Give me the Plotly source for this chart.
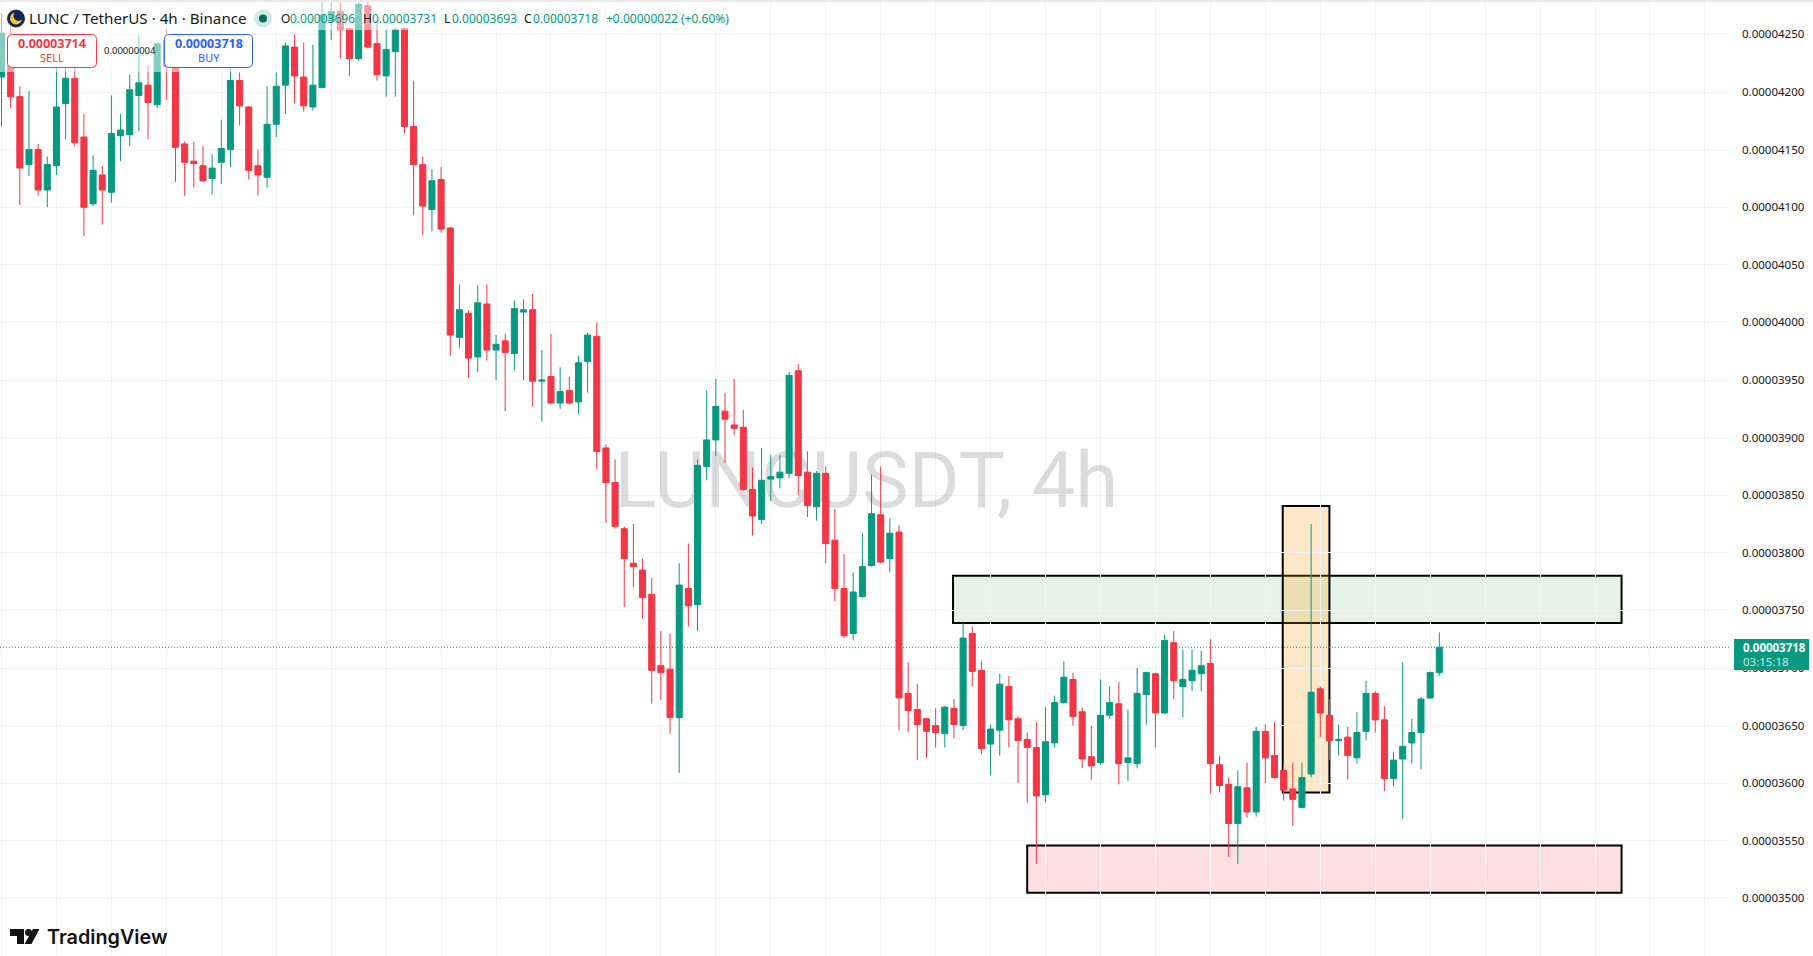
#!/usr/bin/env python3
"""LUNC / TetherUS 4h candles with the three marked zones, TradingView look."""
import plotly.graph_objects as go

# prices are in units of 0.00000001
opens = [4213,4223,4196,4137,4150,4115,4136,4190,4212,4161,
         4103,4128,4113,4162,4163,4197,4206,4189,4245,4223,
         4155,4140,4136,4125,4139,4150,4210,4187,4136,4126,
         4172,4206,4239,4213,4187,4204,4261,4270,4255,4229,
         4275,4242,4214,4235,4255,4170,4137,4098,4124,4082,
         3987,4008,3970,4016,3976,3984,3973,4009,4011,3949,
         3953,3930,3941,3931,3966,3988,3891,3861,3821,3791,
         3785,3764,3702,3699,3657,3769,3755,3875,3898,3923,
         3911,3909,3855,3829,3864,3865,3869,3958,3870,3840,
         3869,3811,3769,3730,3762,3789,3833,3795,3818,3678,
         3664,3656,3650,3643,3665,3650,3730,3698,3634,3646,
         3684,3656,3638,3631,3590,3635,3670,3690,3662,3623,
         3618,3659,3669,3618,3617,3677,3695,3661,3722,3684,
         3689,3695,3704,3616,3599,3565,3596,3575,3645,3624,
         3611,3595,3579,3608,3682,3659,3637,3640,3622,3645,
         3678,3655,3604,3621,3635,3644,3674,3696]
highs = [4268,4257,4205,4201,4155,4144,4221,4225,4225,4181,
         4145,4136,4197,4181,4215,4249,4223,4243,4254,4225,
         4157,4157,4153,4146,4176,4225,4217,4188,4150,4205,
         4217,4243,4250,4243,4241,4278,4278,4278,4256,4278,
         4278,4263,4254,4256,4256,4210,4144,4133,4135,4083,
         4033,4010,4032,4033,3989,3990,4019,4020,4025,3976,
         3990,3961,3953,3971,3991,4000,3894,3881,3823,3825,
         3795,3778,3732,3730,3791,3808,3881,3941,3951,3939,
         3951,3924,3874,3891,3885,3885,3957,3964,3888,3871,
         3875,3838,3799,3783,3817,3868,3875,3830,3824,3705,
         3686,3657,3665,3667,3673,3739,3736,3706,3651,3695,
         3693,3658,3644,3653,3666,3676,3706,3696,3666,3650,
         3690,3684,3688,3664,3700,3697,3696,3729,3732,3716,
         3716,3715,3725,3624,3605,3611,3618,3649,3651,3653,
         3619,3618,3618,3825,3684,3673,3651,3649,3662,3689,
         3680,3667,3627,3705,3656,3675,3697,3731]
lows = [4170,4186,4102,4127,4110,4100,4128,4159,4153,4075,
        4101,4085,4104,4140,4153,4166,4159,4186,4193,4122,
        4110,4117,4122,4111,4120,4135,4171,4124,4110,4117,
        4161,4181,4190,4183,4184,4203,4245,4229,4214,4227,
        4238,4210,4196,4196,4164,4093,4076,4079,4078,3971,
        3978,3952,3957,3967,3950,3923,3958,3950,3927,3914,
        3929,3925,3929,3920,3939,3872,3826,3821,3753,3770,
        3743,3669,3672,3643,3609,3736,3732,3863,3884,3878,
        3902,3854,3815,3825,3845,3856,3865,3850,3831,3828,
        3791,3758,3726,3724,3761,3788,3791,3783,3646,3644,
        3620,3622,3631,3631,3639,3646,3684,3625,3607,3624,
        3631,3600,3583,3530,3583,3631,3669,3650,3613,3603,
        3616,3656,3599,3602,3613,3651,3631,3660,3673,3657,
        3680,3680,3591,3592,3536,3530,3570,3571,3600,3604,
        3585,3563,3578,3605,3640,3620,3624,3603,3617,3637,
        3644,3593,3597,3569,3617,3612,3673,3693]
closes = [4251,4196,4134,4150,4115,4137,4187,4212,4156,4100,
          4132,4115,4164,4167,4202,4208,4191,4242,4222,4152,
          4139,4138,4123,4134,4151,4210,4188,4132,4128,4172,
          4205,4240,4214,4188,4206,4267,4270,4254,4229,4276,
          4239,4215,4237,4254,4170,4137,4101,4123,4081,3989,
          4011,3969,4017,3976,3981,3974,4012,4011,3949,3950,
          3930,3940,3930,3965,3989,3888,3861,3823,3795,3788,
          3761,3698,3696,3657,3772,3754,3876,3898,3927,3916,
          3908,3855,3832,3863,3866,3870,3954,3867,3841,3869,
          3808,3769,3728,3766,3788,3834,3792,3817,3674,3663,
          3651,3645,3644,3666,3651,3726,3697,3630,3647,3686,
          3655,3637,3631,3589,3636,3670,3692,3658,3621,3615,
          3659,3670,3617,3622,3678,3696,3661,3724,3689,3690,
          3698,3702,3617,3598,3565,3597,3575,3645,3622,3605,
          3594,3586,3605,3679,3661,3637,3638,3624,3644,3678,
          3655,3604,3620,3632,3644,3673,3696,3718]

price_ticks = [3450,3500,3550,3600,3650,3700,3750,3800,3850,3900,
               3950,4000,4050,4100,4150,4200,4250]
price_labels = ["0.00003450","0.00003500","0.00003550","0.00003600","0.00003650",
                "0.00003700","0.00003750","0.00003800","0.00003850","0.00003900",
                "0.00003950","0.00004000","0.00004050","0.00004100","0.00004150",
                "0.00004200","0.00004250"]
time_ticks = list(range(0, 187, 6))
last_price = 3718

GREEN = "#089981"
RED = "#F23645"
BLUE = "#2962FF"
INK = "#131722"
FONT = "Noto Sans"

W, H = 1813, 956
PLOT_W = 1730
X_RANGE = [-0.164, 188.74]
Y_RANGE = [3450, 4279.9]


def px(x):
    return x / PLOT_W


def py(y):
    return 1 - y / H


def round_rect(x0, y0, x1, y1, r):
    return (f"M{px(x0 + r)},{py(y0)} L{px(x1 - r)},{py(y0)} Q{px(x1)},{py(y0)} {px(x1)},{py(y0 + r)} "
            f"L{px(x1)},{py(y1 - r)} Q{px(x1)},{py(y1)} {px(x1 - r)},{py(y1)} L{px(x0 + r)},{py(y1)} "
            f"Q{px(x0)},{py(y1)} {px(x0)},{py(y1 - r)} L{px(x0)},{py(y0 + r)} Q{px(x0)},{py(y0)} {px(x0 + r)},{py(y0)} Z")


def paper_rect(fig, x0, y0, x1, y1, fill, line=None, width=0):
    fig.add_shape(type="rect", xref="paper", yref="paper", layer="above",
                  x0=px(x0), x1=px(x1), y0=py(y0), y1=py(y1), fillcolor=fill,
                  line=dict(color=line, width=width) if line else dict(width=0))


def paper_circle(fig, cx, cy, r, fill):
    paper_rect_args = dict(x0=px(cx - r), x1=px(cx + r), y0=py(cy - r), y1=py(cy + r))
    fig.add_shape(type="circle", xref="paper", yref="paper", layer="above",
                  fillcolor=fill, line=dict(width=0), **paper_rect_args)


def label(fig, x, y, text, size, color, anchor="left", bold=False, family=FONT, weight=None):
    font = dict(family=family, size=size, color=color)
    if weight:
        font["weight"] = weight
    fig.add_annotation(xref="paper", yref="paper", x=px(x), y=py(y),
                       text=f"<b>{text}</b>" if bold else text, showarrow=False,
                       xanchor=anchor, yanchor="middle", borderpad=0, borderwidth=0,
                       font=font)


fig = go.Figure()

# watermark lives on the main axes so the candles on the overlay sit on top of it
fig.add_trace(go.Scatter(
    x=[94.45], y=[3857], mode="text", text=["LUNCUSDT, 4h"], hoverinfo="skip",
    textposition="middle center", showlegend=False,
    textfont=dict(family="Roboto", size=78, color="rgba(19,23,34,0.15)"),
))

fig.add_trace(go.Candlestick(
    x=list(range(len(opens))), open=opens, high=highs, low=lows, close=closes,
    xaxis="x2", yaxis="y2", whiskerwidth=0, showlegend=False,
    increasing=dict(line=dict(color=GREEN, width=1), fillcolor=GREEN),
    decreasing=dict(line=dict(color=RED, width=1), fillcolor=RED),
))

# marked zones
fig.add_shape(type="rect", layer="below", x0=103.9, x1=176.9, y0=3739, y1=3780,
              fillcolor="rgba(76,175,80,0.15)", line=dict(color="black", width=2))
fig.add_shape(type="rect", layer="below", x0=112, x1=176.9, y0=3505, y1=3546,
              fillcolor="rgba(242,54,69,0.16)", line=dict(color="black", width=2))
fig.add_shape(type="rect", layer="below", x0=139.9, x1=145, y0=3592, y1=3840.6,
              fillcolor="rgba(255,152,0,0.22)", line=dict(color="black", width=2))

# last price line
fig.add_shape(type="line", xref="paper", x0=0, x1=1, y0=last_price, y1=last_price,
              line=dict(color=GREEN, width=1, dash="1px,2px"))

# header veil over the candles
paper_rect(fig, 0, 0, 735, 30, "rgba(255,255,255,0.5)")
paper_rect(fig, 0, 30, 256, 72, "rgba(255,255,255,0.5)")
paper_rect(fig, 0, 0, W, 2, "#e9e9ea")

# coin logo
paper_circle(fig, 16, 18.5, 9, "#172852")
paper_circle(fig, 16, 18.5, 6, "#F5C542")
paper_circle(fig, 18.5, 16, 5, "#172852")
# market status dot
paper_circle(fig, 263, 18.5, 9, "#cfe9e4")
paper_circle(fig, 263, 18.5, 4, "#0b6b5a")

label(fig, 29, 18, "LUNC / TetherUS · 4h · Binance", 15.2, INK)
label(fig, 281, 18, "O", 12, INK)
label(fig, 290, 18, "0.00003696", 12, GREEN)
label(fig, 363, 18, "H", 12, INK)
label(fig, 372, 18, "0.00003731", 12, GREEN)
label(fig, 444, 18, "L", 12, INK)
label(fig, 452, 18, "0.00003693", 12, GREEN)
label(fig, 524, 18, "C", 12, INK)
label(fig, 533, 18, "0.00003718", 12, GREEN)
label(fig, 606, 18, "+0.00000022 (+0.60%)", 12, GREEN)

# sell / buy buttons
for x0, x1, col, price, name in [(7.5, 96.5, RED, "0.00003714", "SELL"),
                                 (164.5, 252.5, BLUE, "0.00003718", "BUY")]:
    fig.add_shape(type="path", xref="paper", yref="paper", layer="above",
                  path=round_rect(x0, 34.5, x1, 67.5, 5), fillcolor="white",
                  line=dict(color=col, width=1))
    label(fig, (x0 + x1) / 2, 44, price, 12.5, col, anchor="center", bold=True)
    label(fig, (x0 + x1) / 2, 57.5, name, 11, col, anchor="center")
label(fig, 130, 50.5, "0.00000004", 9.5, INK, anchor="center")

# last price tag
paper_rect(fig, 1734, 639, 1809, 670, GREEN)
label(fig, 1743, 647.5, "0.00003718", 11.5, "white", bold=True)
label(fig, 1743, 661.5, "03:15:18", 11.5, "rgba(255,255,255,0.8)")

# TradingView mark
fig.add_shape(type="path", xref="paper", yref="paper", layer="above", fillcolor="#131313", line=dict(width=0),
              path=(f"M{px(10)},{py(929)} L{px(24)},{py(929)} L{px(24)},{py(944)} L{px(17)},{py(944)} "
                    f"L{px(17)},{py(936)} L{px(10)},{py(936)} Z"))
paper_circle(fig, 28.5, 932.5, 3.5, "#131313")
fig.add_shape(type="path", xref="paper", yref="paper", layer="above", fillcolor="#131313", line=dict(width=0),
              path=(f"M{px(33)},{py(929)} L{px(39.5)},{py(929)} L{px(31.5)},{py(944)} L{px(24.5)},{py(944)} Z"))
label(fig, 47, 936.5, "TradingView", 19.8, "#131313", family="Inter", weight=600)

fig.update_layout(
    width=W, height=H, autosize=False,
    margin=dict(l=0, r=W - PLOT_W, t=0, b=0),
    paper_bgcolor="white", plot_bgcolor="white",
    boxgap=0.34, boxgroupgap=0, showlegend=False, dragmode=False,
    font=dict(family=FONT, color=INK),
    xaxis=dict(range=X_RANGE, tickmode="array", tickvals=time_ticks, showticklabels=False,
               showgrid=True, gridcolor="#f2f3f5", gridwidth=1, zeroline=False, showline=False, ticks=""),
    yaxis=dict(range=Y_RANGE, side="right", tickmode="array", tickvals=price_ticks, ticktext=price_labels,
               showgrid=True, gridcolor="#f2f3f5", gridwidth=1, zeroline=False, showline=False, ticks="",
               ticklabelstandoff=11, tickfont=dict(family=FONT, size=11.5, color=INK)),
    xaxis2=dict(range=X_RANGE, overlaying="x", anchor="y2", visible=False,
                rangeslider=dict(visible=False)),
    yaxis2=dict(range=Y_RANGE, overlaying="y", anchor="x2", visible=False),
)

fig.write_html("out.html", config=dict(displayModeBar=False),
               post_script="document.body.style.margin='0';document.documentElement.style.overflow='hidden';")
